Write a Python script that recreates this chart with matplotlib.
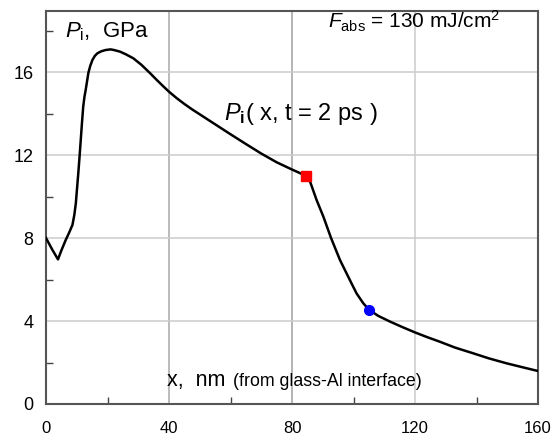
import matplotlib
matplotlib.use("Agg")
import matplotlib.pyplot as plt

plt.rcParams['font.family'] = ['Liberation Sans', 'DejaVu Sans']
plt.rcParams['mathtext.fontset'] = 'custom'
plt.rcParams['mathtext.rm'] = 'Liberation Sans'
plt.rcParams['mathtext.it'] = 'Liberation Sans:italic'
plt.rcParams['mathtext.bf'] = 'Liberation Sans:bold'

# pressure profile P_i(x, t = 2 ps)
x_nm = [0, 2, 3.9, 5, 6.4, 7.5, 8.6, 9.2, 9.7, 10.1, 10.5, 10.9, 11.3, 11.7, 12.1,
        12.5, 12.9, 13.4, 13.8, 14.4, 15.1, 15.9, 16.7, 18, 19.4, 21, 22.1, 24.1,
        26, 28.4, 31, 33.8, 36, 38, 40, 42.5, 45, 47.5, 50, 55, 60, 65, 70, 75, 80, 84.5,
        85.9, 88, 90.2, 92.7, 95.6, 99.4, 101, 103.2, 105.1, 108, 111.9, 116, 120,
        124, 128.1, 133, 139, 144, 149.8, 155, 160]
p_gpa = [8.0, 7.45, 6.97, 7.4, 7.9, 8.25, 8.63, 9.1, 9.67, 10.4, 11.12, 11.9, 12.72,
         13.55, 14.33, 14.8, 15.13, 15.6, 15.97, 16.3, 16.58, 16.78, 16.9, 17.0, 17.06,
         17.09, 17.06, 16.98, 16.85, 16.66, 16.35, 15.95, 15.62, 15.33, 15.05, 14.74,
         14.46, 14.2, 13.96, 13.48, 13.0, 12.53, 12.07, 11.65, 11.3, 11.0,
         10.71, 9.83, 9.03, 8.0, 6.94, 5.8, 5.33, 4.85, 4.54, 4.25, 3.97, 3.7, 3.45,
         3.22, 3.0, 2.72, 2.44, 2.2, 1.96, 1.77, 1.59]

# marked points
red_x, red_y = [84.5], [11.0]
blue_x, blue_y = [105.1], [4.54]

x_ticks = [0, 40, 80, 120, 160]
y_ticks = [0, 4, 8, 12, 16]
x_minor = [20, 60, 100, 140]
y_minor = [2, 6, 10, 14, 18]

fig = plt.figure(figsize=(5.55, 4.38), dpi=100)
ax = fig.add_axes([46/555, 34/438, (538-46)/555, (404-11)/438])

ax.set_xlim(0, 160)
ax.set_ylim(0, 18.94)
ax.set_xticks(x_ticks)
ax.set_yticks(y_ticks)
ax.set_xticks(x_minor, minor=True)
ax.set_yticks(y_minor, minor=True)

for xv, c in zip([40, 80, 120], ['#a8a8a8', '#a0a0a0', '#cccccc']):
    ax.axvline(xv, color=c, lw=1.1, zorder=1)
for yv in [4, 8, 12, 16]:
    ax.axhline(yv, color='#cccccc', lw=1.1, zorder=1)

ax.tick_params(which='both', direction='in', top=False, right=False,
               colors='#444444', labelcolor='black')
ax.tick_params(which='major', length=0)
ax.tick_params(axis='x', which='major', labelsize=12, pad=12)
ax.tick_params(axis='y', which='major', labelsize=13, pad=9)
ax.tick_params(which='minor', length=5, width=1)
for s in ax.spines.values():
    s.set_color('#555555')
    s.set_linewidth(1.5)

ax.plot(x_nm, p_gpa, color='black', lw=1.8, zorder=3)
ax.plot(red_x, red_y, 's', color='red', ms=6.5, zorder=4)
ax.plot(blue_x, blue_y, 'o', color='blue', ms=7, zorder=4)

ax.text(6.2, 17.67, r'$\mathit{P}_{\mathrm{i}}$,  GPa', fontsize=16, va='baseline', ha='left')
ax.text(91.7, 18.12, r'$\mathit{F}_{\mathrm{abs}}$ = 130 mJ/cm$^{2}$', fontsize=15, va='baseline', ha='left')
ax.text(57.9, 13.69, r'$\mathit{P}_{\mathbf{i}}$( x, t = 2 ps )', fontsize=17, va='baseline', ha='left')
ax.text(39.2, 0.87, 'x,  nm', fontsize=15.5, va='baseline', ha='left')
ax.text(60.8, 0.87, '(from glass-Al interface)', fontsize=12.8, va='baseline', ha='left')

fig.savefig('out.png', dpi=100)
